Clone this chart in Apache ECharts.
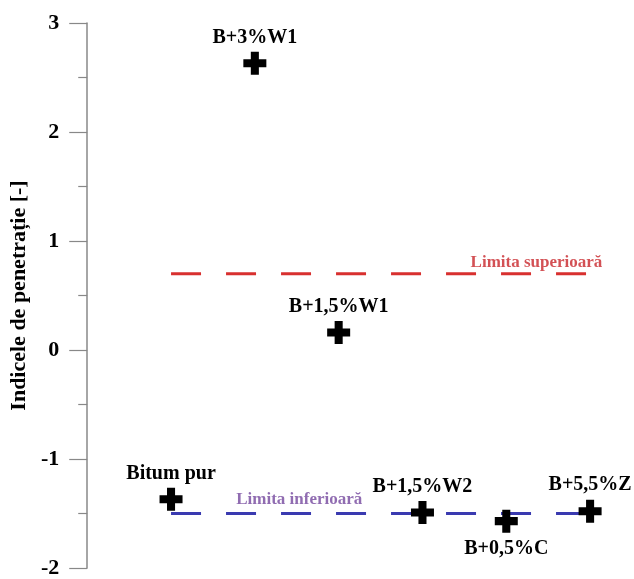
<!DOCTYPE html>
<html>
<head>
<meta charset="utf-8">
<script src="https://cdn.jsdelivr.net/npm/echarts@6/dist/echarts.min.js"></script>
<style>html,body{margin:0;padding:0;background:#fff;}#c{width:634px;height:579px;}</style>
</head>
<body>
<div id="c"></div>
<script>
// Data
var categories = ['Bitum pur', 'B+3%W1', 'B+1,5%W1', 'B+1,5%W2', 'B+0,5%C', 'B+5,5%Z'];
var positions = [1, 2, 3, 4, 5, 6];
var values = [-1.37, 2.63, 0.16, -1.49, -1.57, -1.48];
var labelSides = ['top', 'top', 'top', 'top', 'bottom', 'top'];
var upperLimit = 0.7;
var lowerLimit = -1.5;
var upperLimitName = 'Limita superioară';
var lowerLimitName = 'Limita inferioară';
var upperLabelX = 5.36;
var lowerLabelX = 2.53;
var yTicks = [-2, -1, 0, 1, 2, 3];
var yAxisName = 'Indicele de penetrație [-]';

var FONT = '"Liberation Serif", "Times New Roman", serif';
var PLUS = 'path://M6.5,0H13.5V6.5H20V13.5H13.5V20H6.5V13.5H0V6.5H6.5Z';

var pointData = categories.map(function (c, i) {
  var side = labelSides[i];
  return {
    name: c,
    value: [positions[i], values[i]],
    label: { position: side, distance: side === 'top' ? 4.5 : 6.5 }
  };
});

var chart = echarts.init(document.getElementById('c'), null, { renderer: 'canvas' });
chart.setOption({
  animation: false,
  backgroundColor: '#ffffff',
  grid: { left: 83, right: 2, top: 23, bottom: 10, containLabel: false },
  xAxis: { type: 'value', min: 0, max: 6.5, show: false },
  yAxis: {
    type: 'value',
    min: yTicks[0],
    max: yTicks[yTicks.length - 1],
    interval: 1,
    name: yAxisName,
    nameLocation: 'middle',
    nameGap: 48,
    nameRotate: 90,
    nameTextStyle: { fontFamily: FONT, fontWeight: 'bold', fontSize: 22, color: '#000' },
    axisLine: { show: true, lineStyle: { color: '#888', width: 1.5 } },
    axisTick: { show: true, length: 18, lineStyle: { color: '#888', width: 1.2 } },
    minorTick: { show: true, splitNumber: 2, length: 9, lineStyle: { color: '#888', width: 1.2 } },
    splitLine: { show: false },
    axisLabel: { margin: 28, fontFamily: FONT, fontWeight: 'bold', fontSize: 22, color: '#000' }
  },
  series: [
    {
      type: 'line',
      data: [[positions[0], upperLimit], [positions[positions.length - 1], upperLimit]],
      symbol: 'none',
      lineStyle: { color: '#d8302f', width: 3, type: [30, 25] },
      z: 2
    },
    {
      type: 'line',
      data: [[positions[0], lowerLimit], [positions[positions.length - 1], lowerLimit]],
      symbol: 'none',
      lineStyle: { color: '#3a3ab0', width: 3, type: [30, 25] },
      z: 2
    },
    {
      type: 'scatter',
      symbolSize: 0,
      silent: true,
      data: [
        { value: [upperLabelX, upperLimit], label: { formatter: upperLimitName, color: '#c8262b', offset: [0, -11] } },
        { value: [lowerLabelX, lowerLimit], label: { formatter: lowerLimitName, color: '#74479e', offset: [0, -13.6] } }
      ],
      label: { show: true, position: 'inside', fontFamily: FONT, fontWeight: 'bold', fontSize: 17 },
      z: 3
    },
    {
      type: 'scatter',
      symbol: PLUS,
      symbolSize: 23,
      itemStyle: { color: '#000', opacity: 1 },
      data: pointData,
      label: {
        show: true,
        formatter: function (p) { return p.name; },
        fontFamily: FONT,
        fontWeight: 'bold',
        fontSize: 20,
        color: '#000'
      },
      z: 5
    }
  ]
});
</script>
</body>
</html>
